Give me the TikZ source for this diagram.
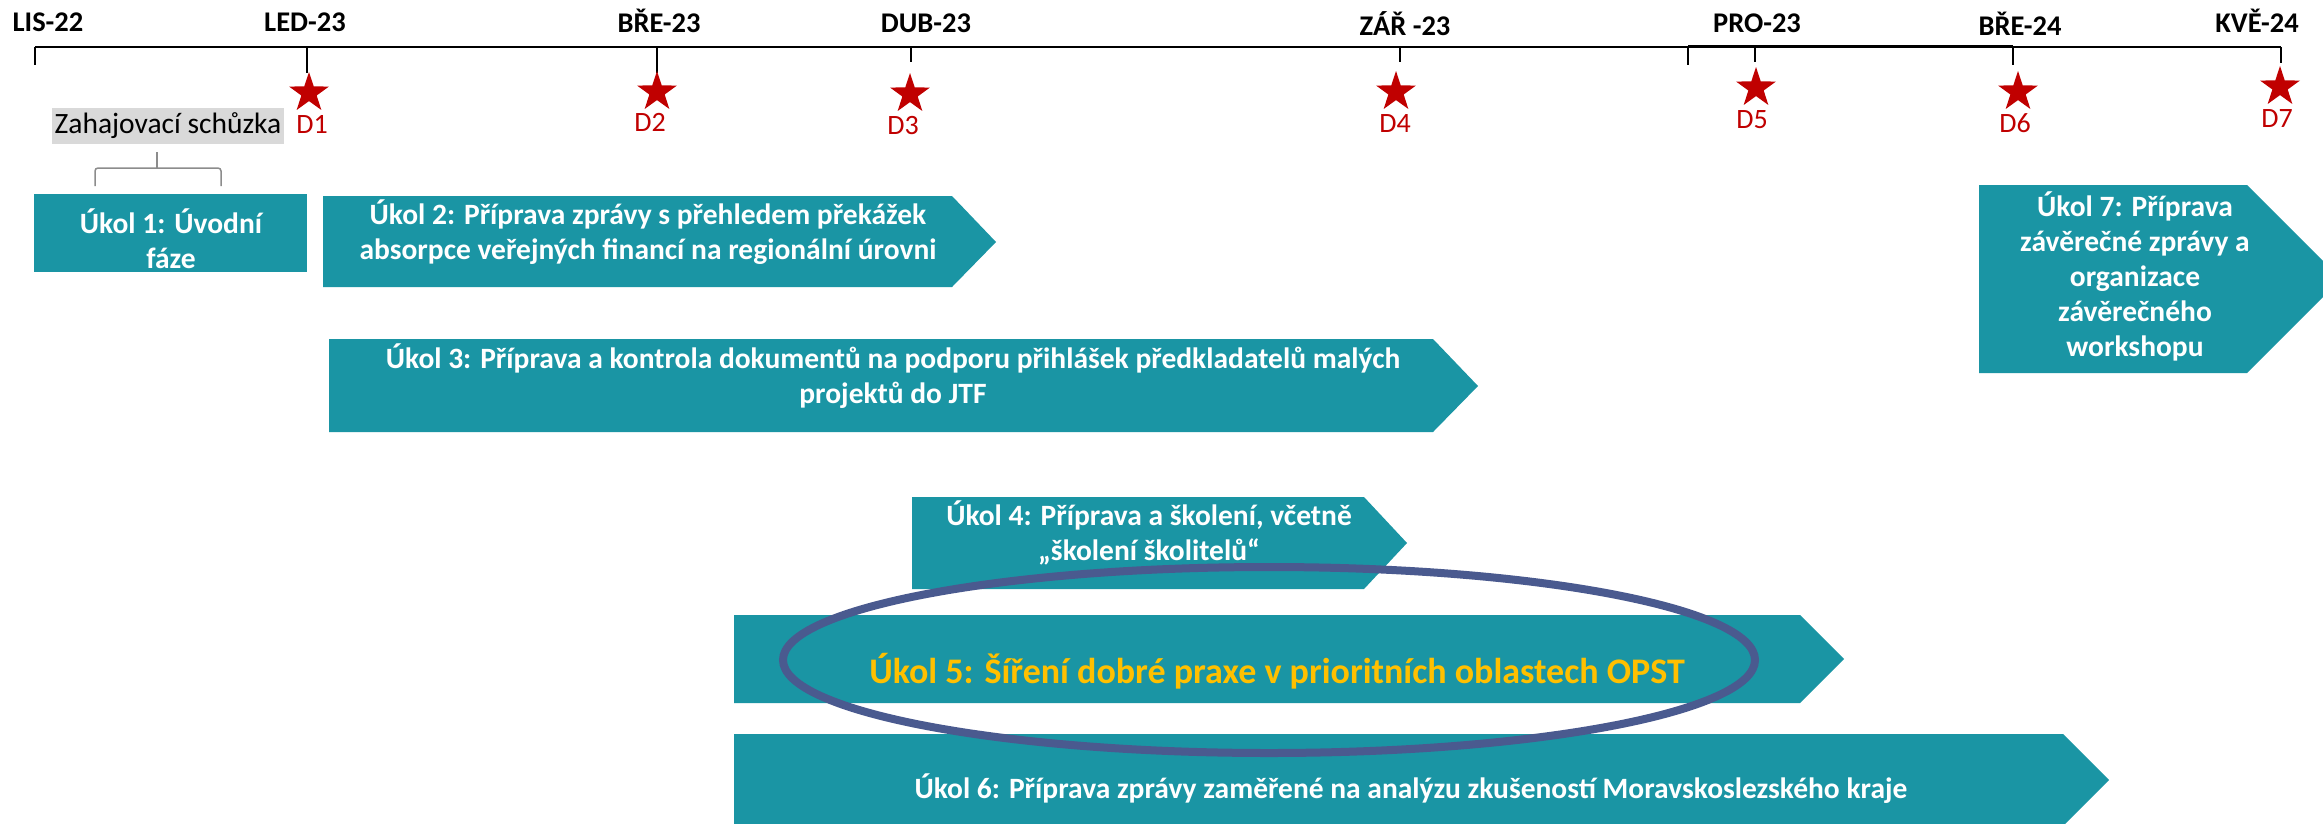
\documentclass[tikz,border=0pt]{standalone}
\usepackage{fontspec}
\setmainfont{Carlito}
\usetikzlibrary{shapes.geometric}
\definecolor{tealc}{HTML}{1A95A4}
\definecolor{starred}{HTML}{C00000}
\definecolor{ellc}{HTML}{4A5A8F}
\definecolor{goldc}{HTML}{FFC000}
\definecolor{grayfill}{HTML}{D9D9D9}
\definecolor{bracec}{HTML}{8C8C8C}
\begin{document}
\begin{tikzpicture}[x=1pt,y=-1pt,
 month/.style={font=\fontsize{28.5}{34}\selectfont\bfseries, anchor=base, inner sep=0},
 dlabel/.style={font=\fontsize{28}{34}\selectfont, text=starred, anchor=base, inner sep=0},
 starmark/.style={star, star points=5, star point ratio=2.6, fill=starred, draw=none, minimum size=42pt, inner sep=0},
 tasktext/.style={font=\fontsize{29.5}{35}\selectfont\bfseries, text=white, align=center, inner sep=0},
 taskfill/.style={fill=tealc},
 tickline/.style={line width=1.5pt, black}
]
\path[use as bounding box] (0,0) rectangle (2323,823);
\clip (0,0) rectangle (2323,823);
\fill[white] (0,0) rectangle (2323,823);

% timeline
\draw[tickline] (35,47) -- (2281,47);
\draw[tickline] (35,47) -- (35,65);
\draw[tickline] (307,47) -- (307,73);
\draw[tickline] (657,47) -- (657,73);
\draw[tickline] (911,47) -- (911,62);
\draw[tickline] (1400,47) -- (1400,62);
\draw[tickline] (1688,45.5) -- (1688,65);
\draw[tickline] (1688,45.5) -- (2013,45.5);
\draw[tickline] (1755,47) -- (1755,62);
\draw[tickline] (2013,47) -- (2013,65);
\draw[tickline] (2281,47) -- (2281,63);

% month labels
\node[month] (m1) at (48,31) {LIS-22};
\node[month] (m2) at (305,31) {LED-23};
\node[month] (m3) at (659,32) {BŘE-23};
\node[month] (m4) at (926,32) {DUB-23};
\node[month] (m5) at (1405,35) {ZÁŘ -23};
\node[month] (m6) at (1757,32) {PRO-23};
\node[month] (m7) at (2020,35) {BŘE-24};
\node[month] (m8) at (2257,32) {KVĚ-24};

% stars
\node[starmark] (s1) at (309,93) {};
\node[starmark] (s2) at (657,92) {};
\node[starmark] (s3) at (910,94) {};
\node[starmark] (s4) at (1396,92) {};
\node[starmark] (s5) at (1756,88) {};
\node[starmark] (s6) at (2018,92) {};
\node[starmark] (s7) at (2280,87) {};

\node[dlabel] (d1) at (312,133) {D1};
\node[dlabel] (d2) at (650,131) {D2};
\node[dlabel] (d3) at (903,134) {D3};
\node[dlabel] (d4) at (1395,132) {D4};
\node[dlabel] (d5) at (1752,128) {D5};
\node[dlabel] (d6) at (2015,132) {D6};
\node[dlabel] (d7) at (2277,127) {D7};

% kickoff
\node[fill=grayfill, minimum width=232pt, minimum height=36pt, inner sep=0,
      font=\fontsize{29.5}{34}\selectfont] (kick) at (168,126) {Zahajovací schůzka};
\draw[bracec, line width=1.5pt, rounded corners=3pt] (95,186) -- (95,168) -- (221,168) -- (221,186);
\draw[bracec, line width=1.5pt] (157,168) -- (157,152);

% task shapes
\fill[taskfill] (34,194) rectangle (307,272);
\fill[taskfill] (323,196) -- (952,196) -- (996,242) -- (952,287) -- (323,287) -- cycle;
\fill[taskfill] (329,339) -- (1433,339) -- (1478,386) -- (1433,432) -- (329,432) -- cycle;
\fill[taskfill] (912,497) -- (1364,497) -- (1407,543) -- (1364,589) -- (912,589) -- cycle;
\fill[taskfill] (734,615) -- (1800,615) -- (1844,659) -- (1800,703) -- (734,703) -- cycle;
\fill[taskfill] (734,734) -- (2063,734) -- (2109,780) -- (2063,826) -- (734,826) -- cycle;
\fill[taskfill] (1979,185) -- (2247,185) -- (2341,279) -- (2247,373) -- (1979,373) -- cycle;

% task texts
\node[tasktext] (t1) at (171,239) {Úkol 1: Úvodní\\fáze};
\node[tasktext] (t2) at (648,232) {Úkol 2: Příprava zprávy s přehledem překážek\\absorpce veřejných financí na regionální úrovni};
\node[tasktext] (t3) at (893,376) {Úkol 3: Příprava a kontrola dokumentů na podporu přihlášek předkladatelů malých\\projektů do JTF};
\node[tasktext] (t4) at (1149,533) {Úkol 4: Příprava a školení, včetně\\„školení školitelů“};
\node[tasktext, text=goldc, font=\fontsize{36}{42}\selectfont\bfseries] (t5) at (1277,671) {Úkol 5: Šíření dobré praxe v prioritních oblastech OPST};
\node[tasktext] (t6) at (1411,789) {Úkol 6: Příprava zprávy zaměřené na analýzu zkušeností Moravskoslezského kraje};
\node[tasktext] (t7) at (2135,276) {Úkol 7: Příprava\\závěrečné zprávy a\\organizace\\závěrečného\\workshopu};

% highlight ellipse
\draw[ellc, line width=8pt] (1269,660) ellipse [x radius=486, y radius=93];
\end{tikzpicture}
\end{document}
